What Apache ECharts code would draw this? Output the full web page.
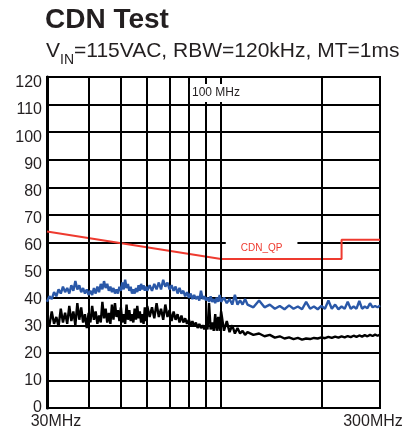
<!DOCTYPE html>
<html><head><meta charset="utf-8">
<script src="https://cdn.jsdelivr.net/npm/echarts@6/dist/echarts.min.js"></script>
<style>html,body{margin:0;padding:0;background:#fff}#c{width:417px;height:434px}</style>
</head><body><div id="c"></div>
<script>
// Frequencies (MHz) at which the traces were read
const freqMHz = [30,30.5,31,31.5,32,32.5,33,33.5,34,34.5,35,35.5,36,36.5,37,37.5,38,38.5,39,39.5,
  40,40.5,41,41.5,42,42.5,43,43.5,44,44.5,45,45.5,46,46.5,47,47.5,48,48.5,49,49.5,
  50,50.5,51,51.5,52,52.5,53,53.5,54,54.5,55,55.5,56,56.5,57,57.5,58,58.5,59,59.5,60,
  61,62,63,64,65,66,67,68,69,70,71,72,73,74,75,76,77,78,79,80,81,82,83,84,85,86,87,88,89,90,91,92,93,94,95,96,97,98,99,100,
  102,104,106,108,110,112,114,116,118,120,
  125,130,135,140,145,150,155,160,165,170,175,180,185,190,195,200,205,210,215,220,225,230,235,240,245,250,255,260,265,270,275,280,285,290,295,300];
// Blue trace (dBµV)
const blueValues = [38.5,40.5,39.5,42,40.5,43,41.5,44,42,43.5,
  41.5,44.5,42.5,46,43,44.5,42,43.5,41.5,43,
  41,42.5,41,43.5,41.5,44,42,45,43,46,
  43.5,45,42.5,44,42,43.5,41.5,43,41.5,44,
  42.5,45.5,43,46.5,43.5,45,42.5,44,41.5,43,
  41.5,43.5,42,44.5,42.5,45,43,44.5,42.5,44,
  42.5,
  44.5,42.5,45,43,45.5,43,46.5,44,45.5,43,
  44.5,42.5,44,41.5,43.5,41.5,42.5,40.5,42,40,
  41.5,39.5,41,39.5,40.5,39,42.5,39.5,40.5,39,
  40,38.5,40.5,38.5,39.5,38,40,38.5,41,38.5,
  40,38,39.5,37.5,41,37.5,39,37.5,39.5,37.5,
  36.5,39,36.5,37.5,36,37,35.8,37.2,36,36.8,35.8,38.5,36,36.8,35.8,37,36,39,36,37.5,35.8,36.8,36,38.5,36,36.8,36,38.8,36,36.8,36.2,38,36.5,37,36.5,37.2];
// Black trace (dBµV)
const blackValues = [32,30,35,30.5,33,29.5,36,31,34.5,30.5,
  37,31.5,35,30,38,32,36.5,31,34,29,
  34.5,31,37,32,35,30.5,33.5,31,38.5,32.5,
  36,31,34.5,30.5,37.5,32,38,33,35.5,31.5,
  36.5,31,34,30.5,37.5,32,35.5,31.5,34,31,
  36,32,37,32.5,35,31,34,30.5,36.5,31.5,
  37,
  33,36.5,32.5,38,33,36,32,37.5,33,35.5,
  31.5,35,32,34,31,33.5,31,32.5,30.5,32,
  30,31.5,29.5,31,29,30.5,29,30,28.5,30,
  28.5,38,28.5,31,28,34,28,33,28,35,
  28,31.5,27.5,30,27,29,27,28,26.5,27.5,
  26.5,27,26,26.5,25.5,26,25.2,25.6,25,25.4,24.8,25.2,25,25.4,25.2,25.6,25.3,25.8,25.4,25.9,25.5,26,25.6,26.1,25.7,26.2,25.8,26.3,25.9,26.4,26,26.5,26.1,26.6,26.2,26.6];
// CDN_QP limit line
const limitFreq = [30,100,230,230,300];
const limitValues = [64,54,54,61,61];
// Vertical grid lines (MHz)
const gridFreqs = [40,50,60,70,80,90,100,200];
// Axis tick labels
const xTickValues = [30,300];
const xTickLabels = ['30MHz','300MHz'];
const yTickValues = [0,10,20,30,40,50,60,70,80,90,100,110,120];
const titleText = 'CDN Test';
const subParts = ['V','IN','=115VAC, RBW=120kHz, MT=1ms'];
const limitName = 'CDN_QP';
const markerText = '100 MHz';

const FF = 'Liberation Sans, Arial, sans-serif';
const TXT = '#231f20';
const chart = echarts.init(document.getElementById('c'));
const pairs = (xs, ys) => xs.map((x, i) => [x, ys[i]]);
// y labels sit slightly below their grid line toward the top of the scale
const yRich = {};
yTickValues.forEach(v => {
  yRich['t' + v] = {fontFamily: FF, fontSize: 16, color: TXT, padding: [v / 10, 0, 0, 0]};
});

chart.setOption({
  animation: false,
  backgroundColor: '#fff',
  title: [
    {text: titleText, left: 45, top: 6, padding: 0,
     textStyle: {fontFamily: FF, fontSize: 28, fontWeight: 'bold', color: TXT}},
    {text: '{v|' + subParts[0] + '}{s|' + subParts[1] + '}{v|' + subParts[2] + '}', left: 46, top: 38, padding: 0,
     textStyle: {fontWeight: 'normal', rich: {
       v: {fontFamily: FF, fontSize: 21, fontWeight: 'normal', color: TXT, lineHeight: 24, verticalAlign: 'bottom'},
       s: {fontFamily: FF, fontSize: 14, fontWeight: 'normal', color: TXT, lineHeight: 24, verticalAlign: 'bottom', padding: [0,0,-5,0]}
     }}}
  ],
  grid: {left: 47, right: 37, top: 77, bottom: 26, show: true, borderColor: '#000', borderWidth: 2},
  xAxis: {
    type: 'log', logBase: 10, min: 30, max: 300,
    axisLine: {show: false}, axisTick: {show: false}, splitLine: {show: false},
    axisLabel: {
      customValues: xTickValues, margin: 6,
      formatter: v => (v < 100 ? '{a|' + xTickLabels[0] + '}' : '{b|' + xTickLabels[1] + '}'),
      rich: {
        a: {fontFamily: FF, fontSize: 16, color: TXT, padding: [0,0,0,18]},
        b: {fontFamily: FF, fontSize: 16, color: TXT, padding: [0,14,0,0]}
      }
    }
  },
  yAxis: {
    type: 'value', min: 0, max: 120, interval: 10,
    axisLine: {show: true, lineStyle: {color: '#000', width: 3}},
    axisTick: {show: false},
    splitLine: {lineStyle: {color: '#000', width: 2}},
    axisLabel: {margin: 5, formatter: v => '{t' + v + '|' + v + '}', rich: yRich}
  },
  series: [
    {type: 'line', data: [], z: 1, silent: true,
     markLine: {silent: true, symbol: 'none', animation: false, label: {show: false},
       lineStyle: {color: '#000', width: 2, type: 'solid'},
       data: gridFreqs.map(f => ({xAxis: f}))}},
    {type: 'line', data: [], z: 3, silent: true,
     markPoint: {silent: true, symbol: 'rect', symbolSize: 0, animation: false,
       data: [
         {coord: [96.5, 114.2], label: {show: true, position: 'inside', formatter: markerText,
           fontFamily: FF, fontSize: 12, color: TXT, backgroundColor: '#fff', padding: [3,2]}},
         {coord: [132.3, 58.0], label: {show: true, position: 'inside', formatter: limitName,
           fontFamily: FF, fontSize: 10, color: '#ee3a2f', backgroundColor: '#fff', padding: [4,15]}}
       ]}},
    {name: limitName, type: 'line', data: pairs(limitFreq, limitValues), z: 4, symbol: 'none',
     lineStyle: {color: '#ee3a2f', width: 2}},
    {type: 'line', data: pairs(freqMHz, blueValues), z: 5, symbol: 'none',
     lineStyle: {color: '#2a58a8', width: 2.4}},
    {type: 'line', data: pairs(freqMHz, blackValues), z: 6, symbol: 'none',
     lineStyle: {color: '#000', width: 2.4}}
  ]
});
</script></body></html>
